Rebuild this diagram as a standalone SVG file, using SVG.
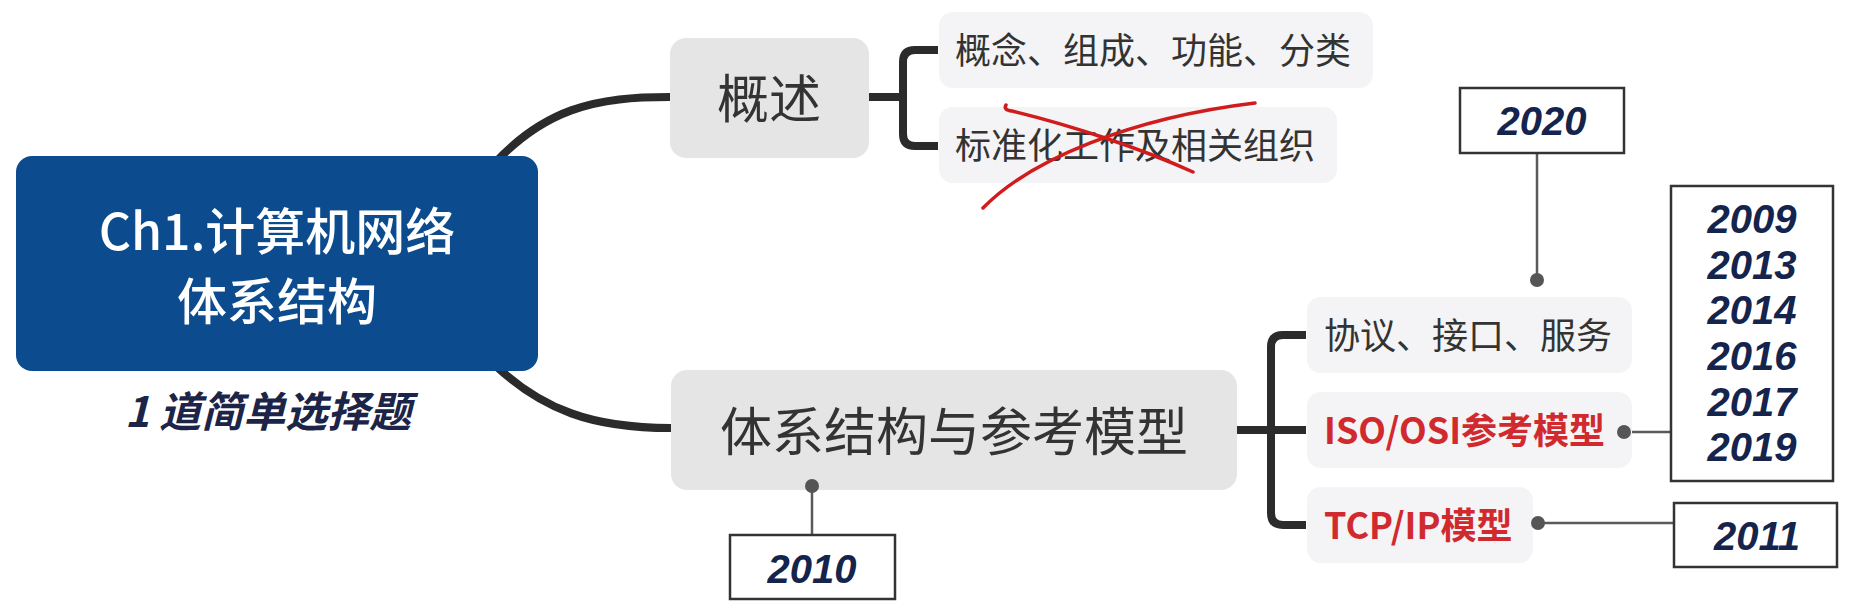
<svg xmlns="http://www.w3.org/2000/svg" width="1850" height="609" viewBox="0 0 1850 609">
<style>
.cn{font-family:"Noto Sans CJK SC","Noto Sans",sans-serif}
.topic{fill:#e5e5e5}
.sub{fill:#f4f3f5}
.tt{fill:#333333;font-size:36px}
.red{fill:#d02a2e;font-weight:bold;font-size:36px}
.yr{font-family:"Liberation Sans",Arial,sans-serif;font-weight:bold;font-style:italic;fill:#15244d;font-size:40px;text-anchor:middle}
.ybox{fill:#ffffff;stroke:#333333;stroke-width:2.5}
.thick{fill:none;stroke:#2b2b2b;stroke-width:8;stroke-linecap:butt}
.thin{fill:none;stroke:#5a5a5a;stroke-width:2.5}
.dot{fill:#555555}
.x{fill:none;stroke:#d01c1c;stroke-width:3.5;stroke-linecap:round}
</style>
<rect width="1850" height="609" fill="#ffffff"/>
<g id="connectors">
<path class="thick" d="M480 180 C540 105 600 97 670 97"/>
<path class="thick" d="M480 350 C540 415 600 428 671 428"/>
<path class="thick" d="M869 97 H903 M938 50 H915 Q903 50 903 62 V134 Q903 146 915 146 H938"/>
<path class="thick" d="M1237 430 H1306 M1306 335 H1283 Q1271 335 1271 347 V513 Q1271 525 1283 525 H1306"/>
<path class="thin" d="M1537 153 V280"/>
<path class="thin" d="M812 486 V535"/>
<path class="thin" d="M1624 432 H1671"/>
<path class="thin" d="M1538 523 H1674"/>
</g>
<g id="root">
<rect x="16" y="156" width="522" height="215" rx="16" fill="#0b4b8e"/>
<text class="cn" x="277" y="250" text-anchor="middle" fill="#ffffff" font-size="50" font-weight="500">Ch1.计算机网络</text>
<text class="cn" x="277" y="320" text-anchor="middle" fill="#ffffff" font-size="50" font-weight="500">体系结构</text>
</g>
<g id="root-note">
<text class="cn" x="268" y="427" text-anchor="middle" fill="#1c2547" font-size="42" font-weight="bold" font-style="italic">1 道简单选择题</text>
</g>
<g id="overview">
<rect class="topic" x="670" y="38" width="199" height="120" rx="16"/>
<text class="cn" x="769" y="118" text-anchor="middle" fill="#333333" font-size="52">概述</text>
</g>
<g id="concepts">
<rect class="sub" x="939" y="12" width="434" height="76" rx="14"/>
<text class="cn tt" x="955" y="64">概念、组成、功能、分类</text>
</g>
<g id="standards">
<rect class="sub" x="939" y="107" width="398" height="76" rx="14"/>
<text class="cn tt" x="955" y="159">标准化工作及相关组织</text>
<path class="x" d="M1006 105 Q1003 110 1012 111 C1070 125 1140 148 1193 172"/>
<path class="x" d="M983 208 C1030 160 1130 118 1255 103"/>
</g>
<g id="arch">
<rect class="topic" x="671" y="370" width="566" height="120" rx="16"/>
<text class="cn" x="954" y="451" text-anchor="middle" fill="#333333" font-size="52">体系结构与参考模型</text>
</g>
<g id="protocols">
<rect class="sub" x="1307" y="297" width="325" height="76" rx="14"/>
<text class="cn tt" x="1324" y="349">协议、接口、服务</text>
</g>
<g id="osi">
<rect class="sub" x="1307" y="392" width="325" height="76" rx="14"/>
<text class="cn red" x="1324" y="444">ISO/OSI参考模型</text>
</g>
<g id="tcpip">
<rect class="sub" x="1307" y="487" width="226" height="76" rx="14"/>
<text class="cn red" x="1324" y="539">TCP/IP模型</text>
</g>
<g id="y2020">
<rect class="ybox" x="1460" y="88" width="164" height="65"/>
<text class="yr" x="1542" y="135">2020</text>
</g>
<g id="y2010">
<rect class="ybox" x="730" y="535" width="165" height="64"/>
<text class="yr" x="812" y="583">2010</text>
</g>
<g id="y2011">
<rect class="ybox" x="1674" y="503" width="163" height="64"/>
<text class="yr" x="1757" y="550">2011</text>
</g>
<g id="yOSI">
<rect class="ybox" x="1671" y="186" width="162" height="295"/>
<text class="yr" x="1752" y="233">2009</text>
<text class="yr" x="1752" y="279">2013</text>
<text class="yr" x="1752" y="324">2014</text>
<text class="yr" x="1752" y="370">2016</text>
<text class="yr" x="1752" y="416">2017</text>
<text class="yr" x="1752" y="461">2019</text>
</g>
<g id="connector-dots">
<circle class="dot" cx="1537" cy="280" r="7"/>
<circle class="dot" cx="812" cy="486" r="7"/>
<circle class="dot" cx="1624" cy="432" r="7"/>
<circle class="dot" cx="1538" cy="523" r="7"/>
</g>
</svg>
